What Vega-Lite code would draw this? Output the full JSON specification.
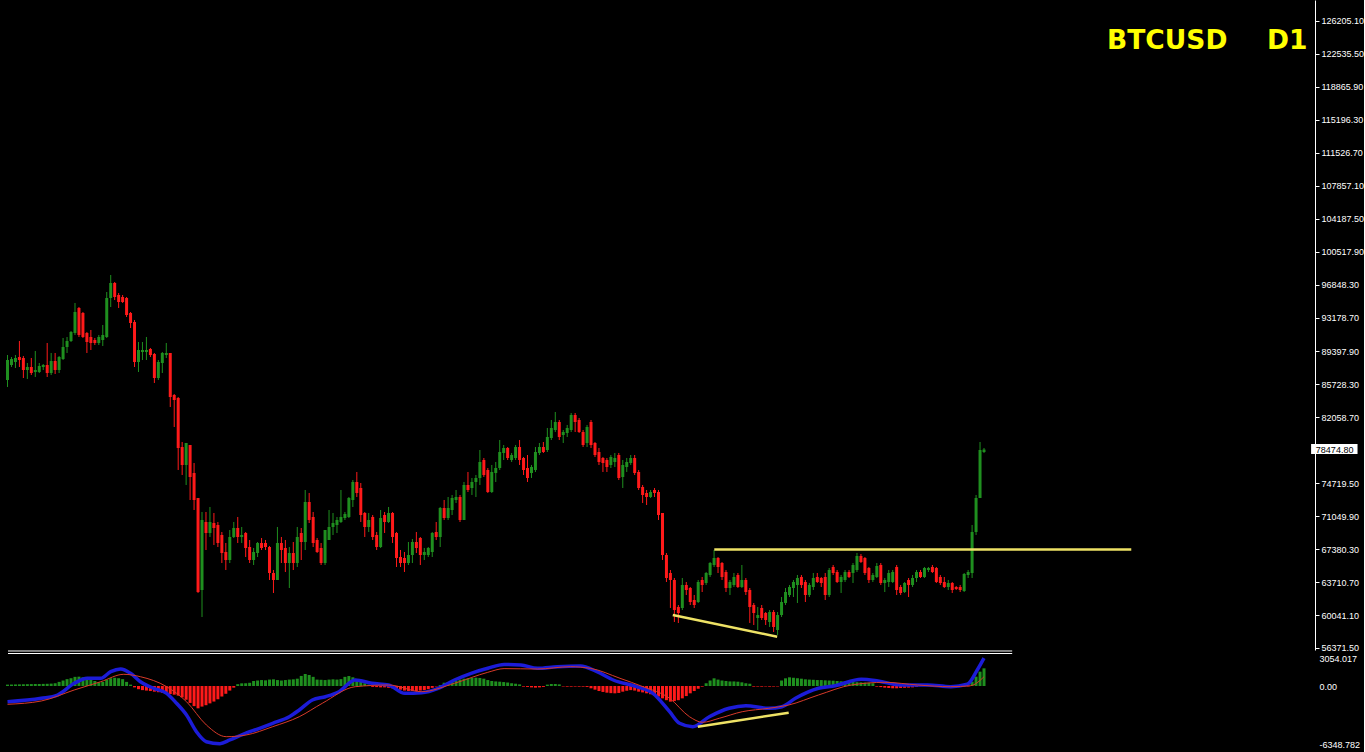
{
"$schema": "https://vega.github.io/schema/vega-lite/v6.json",
"background": "#000000",
"padding": 0,
"spacing": 0,
"bounds": "flush",
"config": {"view": {"stroke": null}, "axis": {"labelOverlap": false, "labelSeparation": 0, "labelBound": false}},
"datasets": {
"candles": [
{"i":0,"o":86220,"h":89004,"l":85440,"c":88447,"v":150},
{"i":1,"o":87890,"h":88781,"l":87668,"c":88559,"v":160},
{"i":2,"o":88225,"h":89004,"l":87556,"c":88670,"v":170},
{"i":3,"o":88781,"h":90564,"l":87668,"c":88447,"v":180},
{"i":4,"o":88670,"h":88893,"l":86442,"c":87334,"v":190},
{"i":5,"o":87334,"h":88113,"l":86331,"c":87668,"v":200},
{"i":6,"o":87668,"h":88670,"l":86777,"c":86999,"v":210},
{"i":7,"o":87111,"h":89450,"l":86554,"c":87334,"v":220},
{"i":8,"o":87111,"h":88113,"l":86999,"c":87779,"v":220},
{"i":9,"o":87668,"h":88002,"l":87334,"c":87890,"v":230},
{"i":10,"o":87890,"h":90341,"l":86554,"c":86999,"v":240},
{"i":11,"o":86999,"h":89227,"l":86777,"c":88336,"v":260},
{"i":12,"o":88336,"h":89227,"l":86888,"c":87334,"v":300},
{"i":13,"o":87334,"h":88893,"l":86999,"c":88781,"v":450},
{"i":14,"o":88559,"h":90898,"l":88447,"c":89895,"v":600},
{"i":15,"o":89895,"h":91009,"l":89227,"c":90564,"v":750},
{"i":16,"o":90564,"h":91677,"l":90452,"c":91566,"v":850},
{"i":17,"o":91455,"h":94796,"l":91232,"c":93794,"v":1000},
{"i":18,"o":94239,"h":94350,"l":91009,"c":91232,"v":1020},
{"i":19,"o":93682,"h":93794,"l":90898,"c":91009,"v":950},
{"i":20,"o":91455,"h":91566,"l":89227,"c":90452,"v":800},
{"i":21,"o":91009,"h":91789,"l":89561,"c":90341,"v":700},
{"i":22,"o":90675,"h":90898,"l":90118,"c":90341,"v":550},
{"i":23,"o":90341,"h":91232,"l":90118,"c":91009,"v":400},
{"i":24,"o":90675,"h":92346,"l":90007,"c":91232,"v":450},
{"i":25,"o":91009,"h":96021,"l":90898,"c":95353,"v":700},
{"i":26,"o":95353,"h":97915,"l":94350,"c":97024,"v":850},
{"i":27,"o":97024,"h":97135,"l":95130,"c":95464,"v":900},
{"i":28,"o":95687,"h":95910,"l":94239,"c":94907,"v":850},
{"i":29,"o":95464,"h":95687,"l":94796,"c":94907,"v":750},
{"i":30,"o":95353,"h":95464,"l":93237,"c":93459,"v":450},
{"i":31,"o":93682,"h":93794,"l":92011,"c":92568,"v":150},
{"i":32,"o":92680,"h":92903,"l":87668,"c":88225,"v":-150},
{"i":33,"o":88225,"h":90452,"l":87111,"c":89561,"v":-350},
{"i":34,"o":89338,"h":90452,"l":88447,"c":89561,"v":-450},
{"i":35,"o":89338,"h":91009,"l":88447,"c":89561,"v":-500},
{"i":36,"o":89673,"h":89784,"l":88781,"c":89004,"v":-550},
{"i":37,"o":89116,"h":89227,"l":85886,"c":86442,"v":-620},
{"i":38,"o":86442,"h":88447,"l":86220,"c":88225,"v":-680},
{"i":39,"o":88113,"h":89338,"l":86999,"c":89227,"v":-740},
{"i":40,"o":89004,"h":90341,"l":88670,"c":89227,"v":-800},
{"i":41,"o":89227,"h":89227,"l":83212,"c":84326,"v":-880},
{"i":42,"o":84549,"h":84660,"l":80985,"c":83992,"v":-950},
{"i":43,"o":84215,"h":84326,"l":76196,"c":78646,"v":-1050},
{"i":44,"o":78757,"h":79314,"l":75639,"c":76753,"v":-1250},
{"i":45,"o":76753,"h":79203,"l":74525,"c":79203,"v":-1500},
{"i":46,"o":78980,"h":78980,"l":72854,"c":75416,"v":-1850},
{"i":47,"o":75861,"h":76975,"l":71740,"c":72854,"v":-2200},
{"i":48,"o":73077,"h":73077,"l":62496,"c":62607,"v":-2440},
{"i":49,"o":62830,"h":71518,"l":59823,"c":70627,"v":-2250},
{"i":50,"o":70404,"h":71518,"l":67285,"c":69179,"v":-2100},
{"i":51,"o":69179,"h":72075,"l":68733,"c":70404,"v":-1900},
{"i":52,"o":70292,"h":71406,"l":67842,"c":69735,"v":-1700},
{"i":53,"o":70070,"h":70404,"l":67619,"c":68065,"v":-1450},
{"i":54,"o":68956,"h":69290,"l":65837,"c":66951,"v":-1150},
{"i":55,"o":67062,"h":68065,"l":65058,"c":66171,"v":-850},
{"i":56,"o":66171,"h":69513,"l":65837,"c":68733,"v":-500},
{"i":57,"o":68733,"h":70404,"l":68622,"c":69735,"v":-180},
{"i":58,"o":69735,"h":70961,"l":68065,"c":68733,"v":200},
{"i":59,"o":68733,"h":69847,"l":68065,"c":68956,"v":290},
{"i":60,"o":69179,"h":69290,"l":66505,"c":67508,"v":300},
{"i":61,"o":67619,"h":68399,"l":65837,"c":66171,"v":350},
{"i":62,"o":66171,"h":67508,"l":65614,"c":67062,"v":550},
{"i":63,"o":66951,"h":68176,"l":66505,"c":68065,"v":600},
{"i":64,"o":68065,"h":68622,"l":67285,"c":67508,"v":650},
{"i":65,"o":68065,"h":68399,"l":67285,"c":67619,"v":620},
{"i":66,"o":67619,"h":67731,"l":63944,"c":64723,"v":700},
{"i":67,"o":64723,"h":65058,"l":62496,"c":63944,"v":730},
{"i":68,"o":63944,"h":69847,"l":63944,"c":68065,"v":650},
{"i":69,"o":68065,"h":68733,"l":65837,"c":67285,"v":600},
{"i":70,"o":67508,"h":68399,"l":64835,"c":65837,"v":650},
{"i":71,"o":65837,"h":67619,"l":63053,"c":66951,"v":700},
{"i":72,"o":66951,"h":68176,"l":65058,"c":65837,"v":730},
{"i":73,"o":65837,"h":69847,"l":65392,"c":68733,"v":800},
{"i":74,"o":69179,"h":69735,"l":66171,"c":68176,"v":1100},
{"i":75,"o":68176,"h":73968,"l":67285,"c":72631,"v":1310},
{"i":76,"o":72631,"h":73634,"l":70292,"c":70627,"v":1200},
{"i":77,"o":70961,"h":71518,"l":67619,"c":68065,"v":1000},
{"i":78,"o":68399,"h":68622,"l":66951,"c":67062,"v":700},
{"i":79,"o":67508,"h":68065,"l":65614,"c":65837,"v":680},
{"i":80,"o":65837,"h":69513,"l":65614,"c":69513,"v":650},
{"i":81,"o":68399,"h":71740,"l":68399,"c":69847,"v":700},
{"i":82,"o":69847,"h":71406,"l":68956,"c":70292,"v":730},
{"i":83,"o":70070,"h":70961,"l":69179,"c":70627,"v":700},
{"i":84,"o":70404,"h":73968,"l":70292,"c":70961,"v":750},
{"i":85,"o":70849,"h":71518,"l":70627,"c":71295,"v":1000},
{"i":86,"o":70961,"h":73188,"l":70849,"c":73077,"v":1090},
{"i":87,"o":72854,"h":75082,"l":72075,"c":74859,"v":950},
{"i":88,"o":74859,"h":75973,"l":73188,"c":73634,"v":600},
{"i":89,"o":74191,"h":74748,"l":70404,"c":71183,"v":450},
{"i":90,"o":71406,"h":71518,"l":68733,"c":69847,"v":300},
{"i":91,"o":69847,"h":71406,"l":69290,"c":70627,"v":150},
{"i":92,"o":70961,"h":71183,"l":68399,"c":68733,"v":-100},
{"i":93,"o":68956,"h":69290,"l":67285,"c":67619,"v":-120},
{"i":94,"o":67619,"h":71740,"l":67508,"c":70849,"v":-150},
{"i":95,"o":71183,"h":71518,"l":69179,"c":70404,"v":-150},
{"i":96,"o":70404,"h":72075,"l":70292,"c":71406,"v":-200},
{"i":97,"o":71406,"h":71518,"l":68065,"c":68733,"v":-250},
{"i":98,"o":69179,"h":69290,"l":65392,"c":66394,"v":-300},
{"i":99,"o":66505,"h":67285,"l":65392,"c":65837,"v":-400},
{"i":100,"o":66394,"h":67062,"l":64835,"c":65837,"v":-500},
{"i":101,"o":65837,"h":68176,"l":65614,"c":66728,"v":-550},
{"i":102,"o":66728,"h":68510,"l":65837,"c":68176,"v":-550},
{"i":103,"o":68176,"h":69290,"l":66951,"c":67508,"v":-550},
{"i":104,"o":68622,"h":68733,"l":65614,"c":66728,"v":-500},
{"i":105,"o":66728,"h":67508,"l":66171,"c":67062,"v":-450},
{"i":106,"o":66728,"h":67619,"l":66505,"c":67508,"v":-350},
{"i":107,"o":67062,"h":69290,"l":66505,"c":69179,"v":-200},
{"i":108,"o":69290,"h":70404,"l":68399,"c":68733,"v":-50},
{"i":109,"o":68733,"h":72075,"l":67619,"c":71963,"v":100},
{"i":110,"o":71963,"h":72854,"l":70627,"c":70849,"v":360},
{"i":111,"o":70849,"h":73188,"l":70627,"c":71963,"v":420},
{"i":112,"o":71740,"h":73411,"l":71183,"c":73077,"v":480},
{"i":113,"o":72854,"h":73968,"l":72520,"c":73188,"v":550},
{"i":114,"o":73188,"h":73411,"l":70404,"c":70627,"v":700},
{"i":115,"o":70627,"h":74859,"l":70627,"c":74525,"v":800},
{"i":116,"o":74525,"h":75973,"l":73745,"c":73968,"v":840},
{"i":117,"o":74191,"h":75305,"l":73411,"c":74859,"v":880},
{"i":118,"o":74859,"h":75639,"l":73188,"c":75305,"v":910},
{"i":119,"o":75305,"h":78423,"l":74525,"c":77087,"v":880},
{"i":120,"o":77309,"h":77532,"l":75416,"c":75639,"v":800},
{"i":121,"o":76196,"h":76418,"l":73634,"c":73745,"v":650},
{"i":122,"o":73745,"h":76753,"l":73634,"c":75973,"v":550},
{"i":123,"o":75861,"h":77087,"l":74859,"c":76418,"v":500},
{"i":124,"o":76418,"h":79537,"l":76196,"c":78200,"v":470},
{"i":125,"o":78089,"h":78980,"l":77309,"c":78646,"v":430},
{"i":126,"o":78646,"h":78757,"l":77309,"c":77532,"v":380},
{"i":127,"o":77309,"h":78089,"l":77087,"c":77866,"v":300},
{"i":128,"o":77532,"h":78980,"l":77309,"c":78757,"v":250},
{"i":129,"o":78757,"h":79537,"l":76753,"c":77309,"v":180},
{"i":130,"o":77532,"h":77644,"l":75639,"c":76196,"v":-70},
{"i":131,"o":76418,"h":77866,"l":74859,"c":75305,"v":-100},
{"i":132,"o":75861,"h":76753,"l":75305,"c":76530,"v":-150},
{"i":133,"o":76196,"h":78757,"l":75973,"c":78200,"v":-180},
{"i":134,"o":78089,"h":79203,"l":77866,"c":78757,"v":-150},
{"i":135,"o":78757,"h":79314,"l":78089,"c":78200,"v":-100},
{"i":136,"o":78423,"h":80874,"l":78200,"c":79871,"v":150},
{"i":137,"o":79760,"h":81765,"l":79537,"c":80874,"v":220},
{"i":138,"o":80651,"h":82656,"l":80428,"c":81542,"v":220},
{"i":139,"o":81542,"h":81765,"l":79537,"c":79871,"v":180},
{"i":140,"o":80094,"h":80651,"l":79203,"c":80428,"v":-50},
{"i":141,"o":80317,"h":81208,"l":79871,"c":80874,"v":-70},
{"i":142,"o":80651,"h":82544,"l":80428,"c":82321,"v":-70},
{"i":143,"o":82321,"h":82544,"l":80428,"c":81542,"v":-60},
{"i":144,"o":81765,"h":81987,"l":80317,"c":80428,"v":-70},
{"i":145,"o":80428,"h":80651,"l":78757,"c":78980,"v":-70},
{"i":146,"o":79203,"h":81208,"l":78757,"c":80985,"v":-100},
{"i":147,"o":81542,"h":81765,"l":78646,"c":78980,"v":-250},
{"i":148,"o":79203,"h":79314,"l":77644,"c":77866,"v":-400},
{"i":149,"o":78200,"h":78646,"l":76753,"c":77087,"v":-550},
{"i":150,"o":77532,"h":77644,"l":75973,"c":76975,"v":-650},
{"i":151,"o":77309,"h":77532,"l":75973,"c":76530,"v":-730},
{"i":152,"o":76753,"h":77866,"l":76418,"c":77644,"v":-780},
{"i":153,"o":77087,"h":78089,"l":76530,"c":77532,"v":-800},
{"i":154,"o":77866,"h":78089,"l":75082,"c":75305,"v":-760},
{"i":155,"o":75416,"h":77309,"l":74191,"c":76753,"v":-620},
{"i":156,"o":76530,"h":77532,"l":75973,"c":77087,"v":-520},
{"i":157,"o":76975,"h":77866,"l":76753,"c":77532,"v":-450},
{"i":158,"o":77532,"h":77866,"l":75639,"c":75861,"v":-500},
{"i":159,"o":75973,"h":76196,"l":73968,"c":74191,"v":-620},
{"i":160,"o":74302,"h":74525,"l":72520,"c":73411,"v":-700},
{"i":161,"o":73634,"h":73968,"l":72297,"c":73188,"v":-800},
{"i":162,"o":73188,"h":73968,"l":73077,"c":73745,"v":-900},
{"i":163,"o":73968,"h":74191,"l":73188,"c":73634,"v":-1000},
{"i":164,"o":73745,"h":73968,"l":70627,"c":71183,"v":-1150},
{"i":165,"o":71406,"h":71406,"l":66171,"c":66728,"v":-1350},
{"i":166,"o":66728,"h":66951,"l":63721,"c":64166,"v":-1550},
{"i":167,"o":64723,"h":65058,"l":60825,"c":63944,"v":-1710},
{"i":168,"o":63944,"h":64166,"l":59266,"c":60602,"v":-1650},
{"i":169,"o":60936,"h":61159,"l":59154,"c":60268,"v":-1550},
{"i":170,"o":60825,"h":64166,"l":60602,"c":63387,"v":-1350},
{"i":171,"o":63387,"h":63721,"l":62273,"c":62830,"v":-1100},
{"i":172,"o":63053,"h":63164,"l":61159,"c":61493,"v":-800},
{"i":173,"o":61716,"h":62273,"l":60825,"c":61159,"v":-550},
{"i":174,"o":61493,"h":63944,"l":61382,"c":63721,"v":-300},
{"i":175,"o":63944,"h":64278,"l":62607,"c":63387,"v":-70},
{"i":176,"o":63610,"h":64835,"l":63387,"c":64723,"v":300},
{"i":177,"o":64501,"h":65948,"l":64278,"c":65837,"v":600},
{"i":178,"o":65614,"h":67285,"l":65392,"c":66394,"v":840},
{"i":179,"o":66394,"h":66505,"l":64723,"c":65392,"v":700},
{"i":180,"o":65837,"h":65948,"l":63944,"c":64278,"v":600},
{"i":181,"o":64835,"h":65058,"l":62607,"c":63053,"v":550},
{"i":182,"o":63053,"h":63944,"l":62273,"c":63721,"v":500},
{"i":183,"o":63387,"h":64723,"l":63164,"c":64278,"v":500},
{"i":184,"o":64501,"h":64723,"l":63053,"c":63164,"v":470},
{"i":185,"o":63164,"h":65614,"l":63053,"c":63944,"v":400},
{"i":186,"o":63944,"h":64166,"l":62273,"c":62607,"v":300},
{"i":187,"o":62830,"h":63053,"l":59154,"c":60936,"v":250},
{"i":188,"o":61159,"h":61382,"l":58932,"c":60268,"v":-70},
{"i":189,"o":59711,"h":60936,"l":58375,"c":60045,"v":-60},
{"i":190,"o":60825,"h":61159,"l":59489,"c":59711,"v":-70},
{"i":191,"o":60268,"h":60380,"l":58932,"c":59489,"v":-50},
{"i":192,"o":59266,"h":60602,"l":58709,"c":60380,"v":-70},
{"i":193,"o":60380,"h":60602,"l":58152,"c":58709,"v":-60},
{"i":194,"o":58375,"h":60380,"l":57818,"c":60045,"v":-50},
{"i":195,"o":60045,"h":62050,"l":59823,"c":61493,"v":600},
{"i":196,"o":61382,"h":63053,"l":61159,"c":62607,"v":840},
{"i":197,"o":62273,"h":63387,"l":62050,"c":63164,"v":950},
{"i":198,"o":63053,"h":63944,"l":62050,"c":63721,"v":900},
{"i":199,"o":63387,"h":64501,"l":61382,"c":64166,"v":850},
{"i":200,"o":64278,"h":64501,"l":63053,"c":63387,"v":800},
{"i":201,"o":63721,"h":63944,"l":61493,"c":62273,"v":730},
{"i":202,"o":62273,"h":63610,"l":62050,"c":63387,"v":700},
{"i":203,"o":63164,"h":64723,"l":62830,"c":64166,"v":680},
{"i":204,"o":64278,"h":64723,"l":63610,"c":63721,"v":650},
{"i":205,"o":64166,"h":64278,"l":63164,"c":63610,"v":650},
{"i":206,"o":64278,"h":64723,"l":61716,"c":62273,"v":620},
{"i":207,"o":62273,"h":65280,"l":62050,"c":65058,"v":600},
{"i":208,"o":65392,"h":65614,"l":64501,"c":64723,"v":580},
{"i":209,"o":64835,"h":65058,"l":63610,"c":63721,"v":550},
{"i":210,"o":63721,"h":64501,"l":62496,"c":64278,"v":520},
{"i":211,"o":63944,"h":65058,"l":63721,"c":64835,"v":500},
{"i":212,"o":64835,"h":65058,"l":64166,"c":64278,"v":480},
{"i":213,"o":64723,"h":65837,"l":63610,"c":65614,"v":450},
{"i":214,"o":65058,"h":66951,"l":64835,"c":66617,"v":420},
{"i":215,"o":66617,"h":66839,"l":65837,"c":65948,"v":400},
{"i":216,"o":66394,"h":66505,"l":64501,"c":64723,"v":380},
{"i":217,"o":65280,"h":65392,"l":63610,"c":63944,"v":360},
{"i":218,"o":63944,"h":64723,"l":63721,"c":64501,"v":300},
{"i":219,"o":64278,"h":65837,"l":64166,"c":65503,"v":-70},
{"i":220,"o":65614,"h":65837,"l":63387,"c":63610,"v":-120},
{"i":221,"o":63610,"h":64166,"l":62607,"c":63944,"v":-180},
{"i":222,"o":63721,"h":65058,"l":63164,"c":64723,"v":-220},
{"i":223,"o":63721,"h":65058,"l":63610,"c":64835,"v":-250},
{"i":224,"o":65392,"h":65614,"l":62273,"c":62830,"v":-250},
{"i":225,"o":63164,"h":63387,"l":62273,"c":62496,"v":-220},
{"i":226,"o":62607,"h":63721,"l":62496,"c":63610,"v":-200},
{"i":227,"o":63944,"h":64166,"l":62050,"c":63387,"v":-180},
{"i":228,"o":63387,"h":64501,"l":63164,"c":64166,"v":-150},
{"i":229,"o":64166,"h":65058,"l":63721,"c":64835,"v":-100},
{"i":230,"o":64835,"h":65058,"l":64166,"c":64278,"v":60},
{"i":231,"o":64278,"h":65392,"l":64166,"c":65280,"v":50},
{"i":232,"o":65058,"h":65392,"l":64835,"c":65280,"v":30},
{"i":233,"o":65392,"h":65614,"l":64723,"c":64835,"v":-40},
{"i":234,"o":65280,"h":65392,"l":63610,"c":63721,"v":-70},
{"i":235,"o":64278,"h":64501,"l":63387,"c":63610,"v":-80},
{"i":236,"o":63721,"h":64278,"l":63053,"c":63164,"v":-90},
{"i":237,"o":63164,"h":63944,"l":62830,"c":63610,"v":-100},
{"i":238,"o":63610,"h":63721,"l":62496,"c":62830,"v":-90},
{"i":239,"o":63164,"h":63275,"l":62830,"c":62941,"v":-80},
{"i":240,"o":63164,"h":63387,"l":62607,"c":62830,"v":-70},
{"i":241,"o":62719,"h":64723,"l":62607,"c":64612,"v":-50},
{"i":242,"o":64501,"h":65058,"l":64166,"c":64835,"v":-50},
{"i":243,"o":64723,"h":70070,"l":64166,"c":69290,"v":470},
{"i":244,"o":69290,"h":73411,"l":68956,"c":73077,"v":1020},
{"i":245,"o":73077,"h":79314,"l":73077,"c":78423,"v":1567},
{"i":246,"o":78200,"h":78646,"l":78089,"c":78474.8,"v":1931}
],
"macd": [
{"i":0,"m":-1716},{"i":8.5,"m":-1344},{"i":12.6,"m":-984},{"i":16.8,"m":295},{"i":20.1,"m":842},{"i":23.5,"m":842},{"i":26,"m":1563},{"i":28.5,"m":1858},{"i":31,"m":1388},{"i":33.5,"m":470},{"i":36.8,"m":-251},{"i":40.1,"m":-798},{"i":42.6,"m":-1891},{"i":45.1,"m":-3170},{"i":47.6,"m":-4995},{"i":50.1,"m":-6088},{"i":53.5,"m":-6300},{"i":56,"m":-5902},{"i":59.3,"m":-5279},{"i":63.5,"m":-4623},{"i":66.8,"m":-4077},{"i":71,"m":-3356},{"i":73.5,"m":-2623},{"i":76.8,"m":-1530},{"i":80.1,"m":-1170},{"i":83.5,"m":-623},{"i":87.6,"m":656},{"i":91.8,"m":295},{"i":96,"m":109},{"i":100.1,"m":-798},{"i":104.3,"m":-732},{"i":108.5,"m":-251},{"i":112.6,"m":656},{"i":116.8,"m":1388},{"i":121,"m":1935},{"i":125.1,"m":2350},{"i":129.3,"m":2295},{"i":133.5,"m":1935},{"i":138.5,"m":2109},{"i":144.3,"m":2186},{"i":148.5,"m":1563},{"i":152.6,"m":656},{"i":158.5,"m":-77},{"i":162.6,"m":-798},{"i":166.8,"m":-2809},{"i":169.3,"m":-4077},{"i":172.6,"m":-4449},{"i":176.8,"m":-3356},{"i":181.8,"m":-2437},{"i":186,"m":-2153},{"i":191.8,"m":-2437},{"i":195.1,"m":-2263},{"i":198.5,"m":-1344},{"i":204.3,"m":-251},{"i":208.5,"m":33},{"i":215.1,"m":732},{"i":219.3,"m":547},{"i":225.1,"m":109},{"i":231.8,"m":109},{"i":237.6,"m":-77},{"i":241.8,"m":186},{"i":244.3,"m":1749},{"i":246,"m":3054}
],
"sig": [
{"i":0,"s":-2000},{"i":8.5,"s":-1640},{"i":16.8,"s":-437},{"i":23.5,"s":470},{"i":29.3,"s":1279},{"i":33.5,"s":1016},{"i":40.1,"s":-77},{"i":45.1,"s":-1716},{"i":50.1,"s":-4263},{"i":55.1,"s":-5541},{"i":60.1,"s":-5356},{"i":66.8,"s":-4449},{"i":73.5,"s":-3356},{"i":79.3,"s":-1891},{"i":87.6,"s":-77},{"i":96,"s":109},{"i":104.3,"s":-623},{"i":112.6,"s":295},{"i":121,"s":1497},{"i":125.1,"s":1900},{"i":133.5,"s":1858},{"i":141.8,"s":2109},{"i":146.8,"s":1935},{"i":154.3,"s":842},{"i":160.1,"s":-77},{"i":166.8,"s":-1344},{"i":171.8,"s":-3356},{"i":175.1,"s":-3968},{"i":179.3,"s":-3530},{"i":185.1,"s":-2809},{"i":191.8,"s":-2437},{"i":196.8,"s":-2077},{"i":204.3,"s":-984},{"i":212.6,"s":109},{"i":221,"s":404},{"i":229.3,"s":109},{"i":237.6,"s":-77},{"i":242.6,"s":33},{"i":246,"s":1016}
],
"trend": [
{"x1":178.05,"y1":67341,"x2":283.1,"y2":67341},
{"x1":167.6,"y1":60045,"x2":193.9,"y2":57628}
],
"mtrend": [{"x1":173.9,"y1":-4449,"x2":196.8,"y2":-2918}],
"label": [{"t":"BTCUSD","i":277.0,"p":123053},{"t":"D1","i":317.3,"p":123053}],
"pbox": [{"i1":328.4,"i2":340.1,"p1":79092,"p2":77978,"p":78474.8,"it":329.6,"t":"78474.80"}],
"sep": [{"v":3826},{"v":3552}]
},
"vconcat": [
{
"width": 1312,
"height": 650,
"layer": [
{"data": {"name": "candles"},
 "mark": {"type": "rule", "strokeWidth": 1},
 "encoding": {
  "x": {"field": "i", "type": "quantitative", "scale": {"domain": [0.125, 328.125], "nice": false, "zero": false}, "axis": null},
  "y": {"field": "l", "type": "quantitative", "title": null, "scale": {"domain": [56147, 128544], "nice": false, "zero": false},
        "axis": {"orient": "right", "tickCount": 100, "values": [126205.1,122535.5,118865.9,115196.3,111526.7,107857.1,104187.5,100517.9,96848.3,93178.7,89397.9,85728.3,82058.7,78474.8,74719.5,71049.9,67380.3,63710.7,60041.1,56371.5],
                 "labelExpr": "abs(datum.value - 78474.8) < 1 ? '' : format(datum.value, '.2f')",
                 "labelColor": "#ffffff", "labelFont": "Liberation Sans", "labelFontSize": 9, "labelPadding": 2,
                 "domainColor": "#ffffff", "domainWidth": 1, "tickColor": "#ffffff", "tickSize": 4, "grid": false, "labelOverlap": false, "labelFlush": false, "labelBound": false}},
  "y2": {"field": "h"},
  "color": {"condition": {"test": "datum.c >= datum.o", "value": "#1f8f1f"}, "value": "#ff1a1a"}
 }},
{"data": {"name": "candles"},
 "mark": {"type": "bar", "size": 3, "orient": "vertical"},
 "encoding": {
  "x": {"field": "i", "type": "quantitative"},
  "y": {"field": "o", "type": "quantitative", "title": null},
  "y2": {"field": "c"},
  "color": {"condition": {"test": "datum.c >= datum.o", "value": "#1f8f1f"}, "value": "#ff1a1a"}
 }},
{"data": {"name": "trend"},
 "mark": {"type": "rule", "color": "#eee265", "strokeWidth": 2.5},
 "encoding": {
  "x": {"field": "x1", "type": "quantitative"},
  "x2": {"field": "x2"},
  "y": {"field": "y1", "type": "quantitative", "title": null},
  "y2": {"field": "y2"}
 }},
{"data": {"name": "label"},
 "mark": {"type": "text", "font": "DejaVu Sans", "fontWeight": "bold", "fontSize": 26.5, "align": "left", "baseline": "alphabetic", "color": "#ffff00"},
 "encoding": {
  "x": {"field": "i", "type": "quantitative"},
  "y": {"field": "p", "type": "quantitative", "title": null},
  "text": {"field": "t"}
 }},
{"data": {"name": "pbox"},
 "mark": {"type": "rect", "color": "#ffffff"},
 "encoding": {
  "x": {"field": "i1", "type": "quantitative"},
  "x2": {"field": "i2"},
  "y": {"field": "p1", "type": "quantitative", "title": null},
  "y2": {"field": "p2"}
 }},
{"data": {"name": "pbox"},
 "mark": {"type": "text", "font": "Liberation Sans", "fontSize": 9, "align": "left", "baseline": "middle", "color": "#000000"},
 "encoding": {
  "x": {"field": "it", "type": "quantitative"},
  "y": {"field": "p", "type": "quantitative", "title": null},
  "text": {"field": "t"}
 }}
]
},
{
"width": 1312,
"height": 102,
"layer": [
{"data": {"name": "candles"},
 "mark": {"type": "bar", "size": 3, "orient": "vertical"},
 "encoding": {
  "x": {"field": "i", "type": "quantitative", "scale": {"domain": [0.125, 328.125], "nice": false, "zero": false}, "axis": null},
  "y": {"field": "v", "type": "quantitative", "title": null, "scale": {"domain": [-7214, 3935], "nice": false, "zero": false},
        "axis": {"orient": "right", "tickCount": 10, "values": [3054.017, 0, -6348.782],
                 "labelExpr": "datum.value > 1 ? '3054.017' : (datum.value < -1 ? '-6348.782' : '0.00')",
                 "labelColor": "#ffffff", "labelFont": "Liberation Sans", "labelFontSize": 9, "labelPadding": 4,
                 "domain": false, "ticks": false, "grid": false, "labelOverlap": false, "labelFlush": false, "labelBound": false}},
  "y2": {"datum": 0},
  "color": {"condition": {"test": "datum.v >= 0", "value": "#1f8f1f"}, "value": "#ff1a1a"}
 }},
{"data": {"name": "sep"},
 "mark": {"type": "rule", "color": "#ffffff", "strokeWidth": 1},
 "encoding": {
  "x": {"datum": 0.125, "type": "quantitative"},
  "x2": {"datum": 253.1},
  "y": {"field": "v", "type": "quantitative", "title": null}
 }},
{"data": {"name": "macd"},
 "mark": {"type": "line", "color": "#1c1cd8", "strokeWidth": 3.5, "interpolate": "monotone"},
 "encoding": {
  "x": {"field": "i", "type": "quantitative"},
  "y": {"field": "m", "type": "quantitative", "title": null}
 }},
{"data": {"name": "sig"},
 "mark": {"type": "line", "color": "#d83a2a", "strokeWidth": 1, "interpolate": "monotone"},
 "encoding": {
  "x": {"field": "i", "type": "quantitative"},
  "y": {"field": "s", "type": "quantitative", "title": null}
 }},
{"data": {"name": "mtrend"},
 "mark": {"type": "rule", "color": "#eee265", "strokeWidth": 2.5},
 "encoding": {
  "x": {"field": "x1", "type": "quantitative"},
  "x2": {"field": "x2"},
  "y": {"field": "y1", "type": "quantitative", "title": null},
  "y2": {"field": "y2"}
 }}
]
}
]
}
